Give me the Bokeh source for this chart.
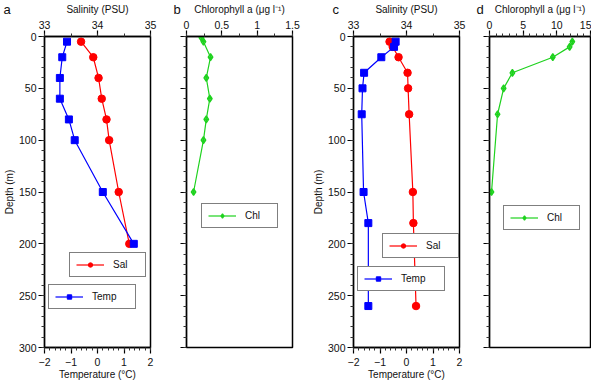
from bokeh.plotting import figure
from bokeh.models import Range1d, LinearAxis, SingleIntervalTicker, Legend, LegendItem
from bokeh.layouts import row
from bokeh.embed import file_html
from bokeh.resources import INLINE

# ---------------- data ----------------
a_depth = [5, 20, 40, 60, 80, 100, 150, 200]
a_temp = [-1.15, -1.33, -1.42, -1.42, -1.08, -0.86, 0.2, 1.37]
a_sal = [33.69, 33.92, 34.02, 34.08, 34.17, 34.22, 34.40, 34.60]

b_depth = [1, 5, 20, 40, 60, 80, 100, 150]
b_chl = [0.21, 0.24, 0.34, 0.28, 0.33, 0.28, 0.24, 0.10]

c_depth = [5, 10, 20, 35, 50, 75, 150, 180, 260]
c_temp = [-0.41, -0.47, -0.95, -1.60, -1.66, -1.69, -1.62, -1.44, -1.44]
c_sal = [33.68, 33.74, 33.85, 34.02, 34.03, 34.05, 34.12, 34.13, 34.18]

d_depth = [5, 10, 20, 35, 50, 75, 150]
d_chl = [12.3, 11.9, 9.4, 3.4, 2.1, 1.2, 0.3]

sal_ticks = (1, 2)
temp_ticks = (1, 5)
depth_ticks = (50, 5)
chl_b_ticks = (0.5, 2)
chl_d_ticks = (5, 5)

FONT = "Liberation Sans"
RED = "#ff0000"
BLUE = "#0000ff"
GREEN = "#1ed21e"
FH = 311


def style_axis(ax, ticks, label=None, show_labels=True, label_standoff=0, tick_standoff=2):
    ax.ticker = SingleIntervalTicker(interval=ticks[0], num_minor_ticks=ticks[1])
    ax.major_tick_in = 0
    ax.major_tick_out = 6
    ax.minor_tick_in = 0
    ax.minor_tick_out = 3
    ax.axis_line_color = "black"
    ax.axis_line_width = 1.3
    ax.major_tick_line_color = "black"
    ax.major_tick_line_width = 1.2
    ax.minor_tick_line_color = "#333333"
    ax.major_label_text_font = FONT
    if show_labels:
        ax.major_label_text_font_size = "10.5px"
        ax.major_label_text_color = "#111111"
    else:
        ax.major_label_text_font_size = "0px"
        ax.major_label_text_color = None
    ax.major_label_standoff = tick_standoff
    ax.axis_label = label
    ax.axis_label_text_font = FONT
    ax.axis_label_text_font_size = "10px"
    ax.axis_label_text_font_style = "normal"
    ax.axis_label_text_color = "#111111"
    ax.axis_label_standoff = label_standoff


def make_fig(xr, fw, mbl, mbr, letter, loff):
    p = figure(frame_width=fw, frame_height=FH, x_range=xr, y_range=Range1d(300, 0),
               x_axis_location="above", output_backend="svg", toolbar_location=None,
               min_border_left=mbl, min_border_right=mbr, min_border_top=29,
               min_border_bottom=5)
    p.grid.visible = False
    p.outline_line_color = "black"
    p.outline_line_width = 1.5
    p.background_fill_color = "white"
    p.border_fill_color = "white"
    # panel letter
    p.title.text = letter
    p.title.align = "left"
    p.title.vertical_align = "bottom"
    p.title.offset = loff
    p.title.standoff = -32
    p.title.text_font = FONT
    p.title.text_font_size = "13px"
    p.title.text_font_style = "normal"
    p.title.text_color = "#111111"
    return p


def add_legend(p, label, renderers, x, y, lw):
    lg = Legend(items=[LegendItem(label=label, renderers=renderers)], location=(x, y),
                border_line_color="black", border_line_width=1.5,
                background_fill_color="white", background_fill_alpha=1.0,
                padding=6, spacing=0, margin=0, glyph_width=28, glyph_height=11,
                label_standoff=9, label_width=lw, label_height=11,
                label_text_font=FONT, label_text_font_size="10px",
                label_text_color="#111111")
    p.add_layout(lg)


def profile_panel(depth, temp, sal, mbl, mbr, letter, loff, sal_leg, temp_leg):
    p = make_fig(Range1d(33, 35), 106, mbl, mbr, letter, loff)
    p.extra_x_ranges = {"temp": Range1d(-2, 2)}
    tax = LinearAxis(x_range_name="temp")
    p.add_layout(tax, "below")
    style_axis(p.xaxis[0], sal_ticks, "Salinity (PSU)", label_standoff=3)
    style_axis(tax, temp_ticks, "Temperature (°C)", label_standoff=0, tick_standoff=4)
    tax.major_label_overrides = {-2: "\u22122", -1: "\u22121"}
    style_axis(p.yaxis[0], depth_ticks, "Depth (m)", label_standoff=1)

    sl = p.line(sal, depth, line_color=RED, line_width=1.2)
    ss = p.scatter(sal, depth, marker="circle", size=7.5, fill_color=RED, line_color=RED)
    tl = p.line(temp, depth, line_color=BLUE, line_width=1.2, x_range_name="temp")
    ts = p.scatter(temp, depth, marker="square", size=7, fill_color=BLUE, line_color=BLUE,
                   x_range_name="temp")
    add_legend(p, "Sal", [sl, ss], sal_leg[0], sal_leg[1], 26)
    add_legend(p, "Temp", [tl, ts], temp_leg[0], temp_leg[1], 37)
    return p


def chl_panel(depth, chl, xr, ticks, fw, mbl, mbr, letter, loff, leg):
    p = make_fig(xr, fw, mbl, mbr, letter, loff)
    style_axis(p.xaxis[0], ticks, "Chlorophyll a (\u03bcg l\u207b\u00b9)", label_standoff=3)
    style_axis(p.yaxis[0], depth_ticks, None, show_labels=False)
    ln = p.line(chl, depth, line_color=GREEN, line_width=1.2)
    sc = p.scatter(chl, depth, marker="diamond_cross", size=7, fill_color="#c8f5c8",
                   line_color=GREEN, line_width=1.3)
    add_legend(p, "Chl", [ln, sc], leg[0], leg[1], 26)
    return p


pa = profile_panel(a_depth, a_temp, a_sal, 37, 21, "a", -41, (25, 70), (4, 38))
pb = chl_panel(b_depth, b_chl, Range1d(0, 1.5), chl_b_ticks, 106, 15, 15, "b", -13, (15, 119))
pc = profile_panel(c_depth, c_temp, c_sal, 46, 15, "c", -21, (29, 89), (4, 56))
pd = chl_panel(d_depth, d_chl, Range1d(0, 15), chl_d_ticks, 101, 15, 1, "d", -13, (14, 117))

layout = row(pa, pb, pc, pd)
open("out.html", "w").write(file_html(layout, INLINE))
